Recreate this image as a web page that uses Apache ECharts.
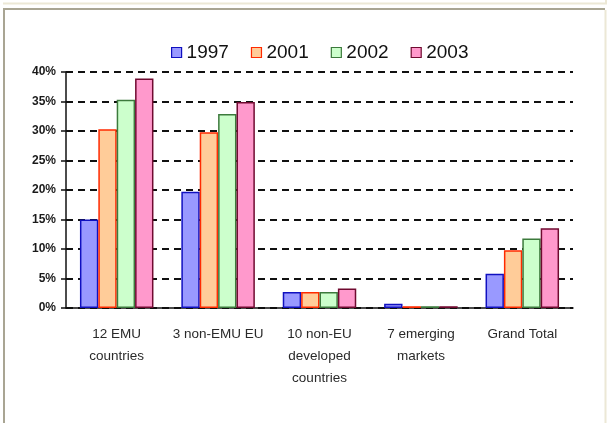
<!DOCTYPE html>
<html>
<head>
<meta charset="utf-8">
<script src="https://cdn.jsdelivr.net/npm/echarts@6/dist/echarts.min.js"></script>
<style>
  html, body { margin: 0; padding: 0; background: #ffffff; }
  #chart { width: 608px; height: 423px; }
</style>
</head>
<body>
<div id="chart"></div>
<script>
// Share of holdings by region group, per year (percent)
const categories = [
  '12 EMU\ncountries',
  '3 non-EMU EU',
  '10 non-EU\ndeveloped\ncountries',
  '7 emerging\nmarkets',
  'Grand Total'
];
const years = ['1997', '2001', '2002', '2003'];
const values1997 = [15.0, 19.7, 2.7, 0.7, 5.8];
const values2001 = [30.3, 29.8, 2.7, 0.3, 9.8];
const values2002 = [35.3, 32.9, 2.7, 0.3, 11.8];
const values2003 = [38.9, 34.9, 3.3, 0.3, 13.5];
const yTicks = [0, 5, 10, 15, 20, 25, 30, 35, 40];

const fills = ['#9999ff', '#ffcc99', '#ccffcc', '#ff99cc'];
const borders = ['#1010c0', '#ff2a00', '#3c7a3c', '#700a30'];
const seriesValues = [values1997, values2001, values2002, values2003];

const chart = echarts.init(document.getElementById('chart'));

const AX_LEFT = 66, AX_RIGHT = 573, AX_TOP = 72, AX_BOTTOM = 308;

const series = years.map((y, i) => ({
  name: y,
  type: 'bar',
  data: seriesValues[i],
  barGap: '0%',
  barCategoryGap: '27.5%',
  itemStyle: { color: fills[i], borderColor: borders[i], borderWidth: 1.5 },
  emphasis: { disabled: true }
}));

const yBase = {
  type: 'value',
  min: yTicks[0],
  max: yTicks[yTicks.length - 1],
  interval: 5,
  position: 'left'
};

chart.setOption({
  animation: false,
  backgroundColor: '#ffffff',
  textStyle: { fontFamily: "'Liberation Sans', Arial, sans-serif" },
  legend: {
    left: 166,
    top: 38,
    itemWidth: 10,
    itemHeight: 10,
    itemGap: 22,
    icon: 'rect',
    data: years,
    itemStyle: { borderWidth: 1.2 },
    textStyle: {
      fontFamily: "'Liberation Sans', Arial, sans-serif",
      fontSize: 19,
      color: '#111111',
      padding: [0, 0, 0, 0]
    }
  },
  grid: {
    left: AX_LEFT,
    right: 608 - AX_RIGHT,
    top: AX_TOP,
    bottom: 423 - AX_BOTTOM,
    containLabel: false
  },
  xAxis: {
    type: 'category',
    data: categories,
    axisLine: { lineStyle: { color: '#111111', width: 1.5 } },
    axisTick: { show: false },
    axisLabel: {
      interval: 0,
      margin: 15,
      fontSize: 13.5,
      lineHeight: 22,
      color: '#2a2a2a',
      fontFamily: "'Liberation Sans', Arial, sans-serif",
      align: 'center'
    }
  },
  yAxis: [
    Object.assign({}, yBase, {
      axisLine: { show: true, lineStyle: { color: '#111111', width: 1.5 } },
      axisTick: { show: true, inside: false, length: 5, lineStyle: { color: '#111111', width: 1.5 } },
      axisLabel: {
        formatter: v => v + '%',
        margin: 10,
        fontSize: 12,
        color: '#1a1a1a',
        fontWeight: 'bold',
        fontFamily: "'Liberation Sans', Arial, sans-serif"
      },
      splitLine: {
        show: true,
        lineStyle: { color: '#111111', width: 2, type: [7, 5] }
      }
    }),
    Object.assign({}, yBase, {
      axisLine: { show: false },
      axisTick: { show: true, inside: true, length: 5, lineStyle: { color: '#111111', width: 1.5 } },
      axisLabel: { show: false },
      splitLine: { show: false }
    })
  ],
  series: series,
  graphic: [
    // outer page frame
    { type: 'line', shape: { x1: 3, y1: 3.5, x2: 607, y2: 3.5 }, style: { stroke: '#ece8d6', lineWidth: 2 }, silent: true },
    { type: 'line', shape: { x1: 606, y1: 0, x2: 606, y2: 4 }, style: { stroke: '#ece8d6', lineWidth: 2 }, silent: true },
    { type: 'line', shape: { x1: 3, y1: 9, x2: 605, y2: 9 }, style: { stroke: '#a9a593', lineWidth: 2 }, silent: true },
    { type: 'line', shape: { x1: 4, y1: 8, x2: 4, y2: 423 }, style: { stroke: '#a9a593', lineWidth: 2 }, silent: true },
    { type: 'line', shape: { x1: 605.5, y1: 10, x2: 605.5, y2: 423 }, style: { stroke: '#ece8d6', lineWidth: 2 }, silent: true }
  ]
});
</script>
</body>
</html>
